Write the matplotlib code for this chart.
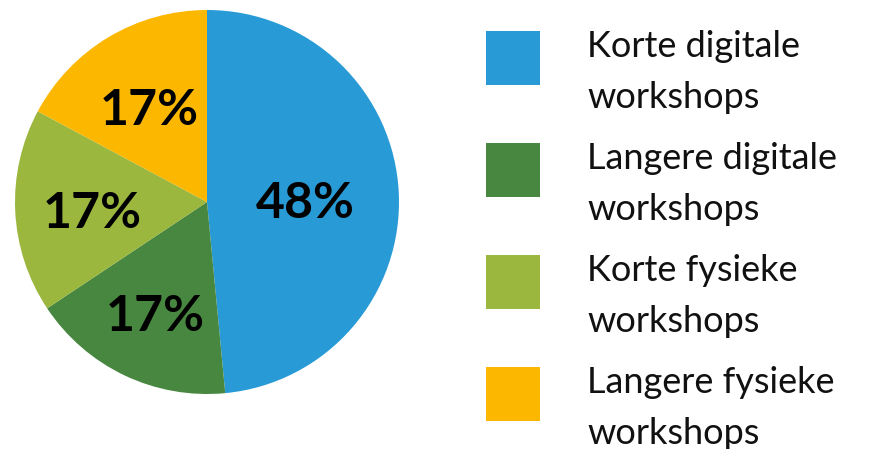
import matplotlib
matplotlib.use("Agg")
import matplotlib.pyplot as plt
import numpy as np

plt.rcParams["font.family"] = ["Lato", "DejaVu Sans"]

PCTS = [48, 17, 17, 17]
LEGEND = ["Korte digitale\nworkshops", "Langere digitale\nworkshops",
          "Korte fysieke\nworkshops", "Langere fysieke\nworkshops"]
COLORS = ["#289AD6", "#488740", "#9BB73E", "#FCB700"]
LABEL_DIST = [0.51, 0.63, 0.60, 0.59]

W, H = 874, 449
fig = plt.figure(figsize=(W / 100, H / 100), dpi=100)

cx, cy, r = 207, 202, 192
ax = fig.add_axes([(cx - r) / W, (H - cy - r) / H, 2 * r / W, 2 * r / H])
wedges, _ = ax.pie(PCTS, colors=COLORS, startangle=90, counterclock=False,
                   wedgeprops=dict(linewidth=0))
for w, p, d in zip(wedges, PCTS, LABEL_DIST):
    ang = np.deg2rad((w.theta1 + w.theta2) / 2)
    ax.text(d * np.cos(ang), d * np.sin(ang) - 0.03, f"{p}%", ha="center",
            va="center", fontsize=36, fontweight="bold", color="black")
ax.set_xlim(-1, 1); ax.set_ylim(-1, 1)

# legend drawn in pixel coordinates
lg = fig.add_axes([0, 0, 1, 1])
lg.set_xlim(0, W); lg.set_ylim(H, 0); lg.axis("off")
for i, (lab, col) in enumerate(zip(LEGEND, COLORS)):
    top = 31 + 112 * i
    lg.add_patch(plt.Rectangle((486, top), 54, 54, color=col, lw=0))
    for j, line in enumerate(lab.split("\n")):
        lg.text(587, top + 26 + 51 * j, line, fontsize=26, color="#111111",
                va="baseline", ha="left")

fig.savefig("out.png", dpi=100)
plt.close(fig)
